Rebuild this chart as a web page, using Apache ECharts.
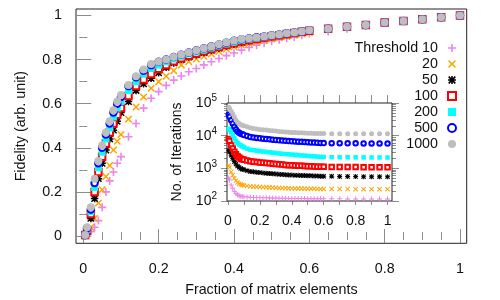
<!DOCTYPE html>
<html>
<head>
<meta charset="utf-8">
<script src="https://cdn.jsdelivr.net/npm/echarts@6/dist/echarts.min.js"></script>
<style>html,body{margin:0;padding:0;background:#fff}#c{width:500px;height:300px}</style>
</head>
<body>
<div id="c"></div>
<script>
// ---------------- data ----------------
const fractions = [0.005,0.01,0.02,0.03,0.04,0.05,0.06,0.07,0.08,0.09,0.10,
  0.12,0.14,0.16,0.18,0.20,0.22,0.24,0.26,0.28,0.30,0.32,0.34,0.36,0.38,0.40,
  0.42,0.44,0.46,0.48,0.50,0.52,0.54,0.56,0.58,0.60,
  0.65,0.70,0.75,0.80,0.85,0.90,0.95,1.0];

const seriesNames = ['Threshold 10','20','50','100','200','500','1000'];

// Fidelity (main plot)
const fid10 = [0.0,0.01,0.02,0.04,0.07,0.13,0.20,0.25,0.29,0.33,0.36,0.45,0.51,0.58,0.625,0.655,0.683,0.707,0.726,0.745,0.76,0.776,0.79,0.805,0.818,0.83,0.843,0.855,0.865,0.875,0.883,0.89,0.897,0.903,0.91,0.918,0.928,0.94,0.955,0.967,0.975,0.983,0.992,1.0];
const fid20 = [0.0,0.01,0.04,0.08,0.15,0.21,0.27,0.32,0.39,0.43,0.46,0.53,0.585,0.63,0.67,0.70,0.725,0.75,0.775,0.79,0.803,0.815,0.826,0.837,0.848,0.858,0.866,0.873,0.88,0.887,0.893,0.899,0.905,0.91,0.916,0.922,0.935,0.946,0.956,0.967,0.975,0.983,0.992,1.0];
const fid50 = [0.005,0.02,0.08,0.17,0.26,0.33,0.39,0.44,0.48,0.52,0.56,0.61,0.66,0.69,0.715,0.74,0.765,0.785,0.80,0.812,0.822,0.832,0.842,0.852,0.862,0.87,0.878,0.885,0.892,0.898,0.904,0.909,0.914,0.919,0.925,0.93,0.94,0.949,0.957,0.968,0.975,0.983,0.992,1.0];
const fid100 = [0.005,0.025,0.1,0.2,0.29,0.36,0.42,0.47,0.51,0.55,0.58,0.635,0.68,0.71,0.735,0.758,0.775,0.792,0.806,0.818,0.828,0.838,0.848,0.857,0.866,0.874,0.882,0.888,0.894,0.9,0.906,0.911,0.916,0.921,0.926,0.931,0.94,0.949,0.957,0.968,0.975,0.983,0.992,1.0];
const fid200 = [0.005,0.03,0.11,0.22,0.31,0.38,0.44,0.49,0.54,0.58,0.61,0.66,0.70,0.735,0.76,0.775,0.79,0.803,0.815,0.826,0.836,0.845,0.854,0.863,0.872,0.88,0.887,0.893,0.898,0.903,0.908,0.913,0.918,0.922,0.927,0.932,0.94,0.949,0.957,0.968,0.975,0.983,0.992,1.0];
const fid500 = [0.005,0.035,0.12,0.24,0.33,0.40,0.46,0.51,0.56,0.60,0.63,0.68,0.72,0.75,0.775,0.79,0.80,0.812,0.822,0.832,0.842,0.851,0.86,0.869,0.877,0.885,0.892,0.897,0.901,0.905,0.91,0.914,0.919,0.923,0.928,0.933,0.94,0.949,0.957,0.968,0.975,0.983,0.992,1.0];
const fid1000 = [0.005,0.04,0.13,0.26,0.34,0.41,0.47,0.52,0.57,0.61,0.64,0.685,0.725,0.755,0.78,0.79,0.80,0.812,0.822,0.832,0.842,0.851,0.86,0.87,0.878,0.886,0.893,0.897,0.90,0.905,0.91,0.914,0.919,0.923,0.928,0.933,0.94,0.949,0.957,0.968,0.975,0.983,0.992,1.0];

// Number of iterations (inset)
const iter10 = [510,440,310,245,200,170,155,146,141,138,136,133,131,129,128,127,126,125,124.5,123.6,122.8,122,121,120.5,120,119.7,119.5,119,118.7,118.4,118,117.8,117.5,117.2,117,116.8,116.5,116.3,116,115.8,115.6,115.4,115.2,115];
const iter20 = [1230,1070,780,620,500,420,370,340,320,310,300,290,280,275,272,269,266,263,260,257,254,251,248,247,245,243,242,241,240,239,238,237,236,235,234,234,233,232,231,230,230,229,229,228];
const iter50 = [3550,3160,2510,2000,1620,1350,1170,1070,990,940,910,850,800,780,760,740,725,710,695,680,670,660,645,635,625,620,615,610,605,600,595,590,585,580,575,573,570,565,560,558,555,552,550,548];
const iter100 = [7900,6900,5100,4070,3240,2690,2340,2140,1970,1900,1840,1740,1660,1580,1550,1510,1480,1450,1420,1390,1360,1330,1300,1270,1250,1240,1220,1200,1190,1170,1160,1150,1140,1120,1110,1110,1100,1100,1090,1090,1080,1080,1080,1070];
const iter200 = [16200,15100,12600,10200,8300,6900,6000,5400,5000,4700,4400,4000,3720,3590,3470,3370,3270,3180,3100,3020,2940,2860,2790,2740,2690,2640,2590,2540,2490,2450,2400,2360,2320,2280,2240,2220,2200,2190,2180,2170,2160,2150,2150,2140];
const iter500 = [43600,38000,29500,23400,18600,15500,13500,12200,11500,11000,10500,9800,9100,8750,8500,8280,8090,7910,7730,7550,7380,7210,7060,6950,6840,6750,6650,6560,6470,6380,6300,6220,6150,6070,5980,5940,5900,5870,5850,5830,5800,5780,5770,5750];
const iter1000 = [74000,67600,56200,45700,37200,30200,25700,23400,21600,20700,20000,18600,17400,16600,16000,15500,15100,14800,14500,14100,13800,13500,13200,13000,12800,12600,12400,12300,12200,12000,11900,11800,11750,11650,11600,11550,11500,11500,11450,11450,11400,11400,11400,11400];

// tick values
const mainXTicks = [0,0.2,0.4,0.6,0.8,1];
const mainXMinor = [0,0.05,0.1,0.15,0.2,0.25,0.3,0.35,0.4,0.45,0.5,0.55,0.6,0.65,0.7,0.75,0.8,0.85,0.9,0.95,1];
const mainYTicks = [0,0.2,0.4,0.6,0.8,1];
const mainYMinor = [0,0.1,0.2,0.3,0.4,0.5,0.6,0.7,0.8,0.9,1];
const insetXTicks = [0,0.2,0.4,0.6,0.8,1];
const insetXMinor = [0,0.1,0.2,0.3,0.4,0.5,0.6,0.7,0.8,0.9,1];
const insetYTicks = [100,1000,10000,100000];
const insetYMinor = [100,200,300,400,500,600,700,800,900,1000,2000,3000,4000,5000,6000,7000,8000,9000,10000,20000,30000,40000,50000,60000,70000,80000,90000,100000];

// ---------------- chart ----------------
const fidSets = [fid10,fid20,fid50,fid100,fid200,fid500,fid1000];
const iterSets = [iter10,iter20,iter50,iter100,iter200,iter500,iter1000];

const PLUS = 'path://M4,0H6V4H10V6H6V10H4V6H0V4H4Z';
const CROSS = 'path://M0,1.4L1.4,0L5,3.6L8.6,0L10,1.4L6.4,5L10,8.6L8.6,10L5,6.4L1.4,10L0,8.6L3.6,5Z';
const STAR = 'path://M4,0H6V4H10V6H6V10H4V6H0V4H4Z M1.5,0.1L9.9,8.5L8.5,9.9L0.1,1.5Z M8.5,0.1L9.9,1.5L1.5,9.9L0.1,8.5Z';

const styles = [
  {symbol: PLUS, size: 8, inset: 5, color: '#ee82ee'},
  {symbol: CROSS, size: 7.5, inset: 5, color: '#ffa500'},
  {symbol: STAR, size: 7.5, inset: 5, color: '#000000'},
  {symbol: 'emptyRect', size: 6.5, inset: 4.5, color: '#ff0000', border: 1.5},
  {symbol: 'rect', size: 7, inset: 4.5, color: '#00ffff'},
  {symbol: 'emptyCircle', size: 6.5, inset: 4.5, color: '#0000ff', border: 1.5},
  {symbol: 'circle', size: 8, inset: 5, color: '#bebebe'}
];

const FONT = '"Liberation Sans", Arial, Helvetica, sans-serif';
const TXT = '#111';
const TICK = '#8c8c8c';

function tickAxis(extra) {
  return Object.assign({
    type: 'value', splitLine: {show: false}, axisLine: {show: false},
    axisLabel: {show: false}
  }, extra);
}

const xAxes = [
  tickAxis({gridIndex: 0, position: 'bottom', min: -0.0194, max: 1.0178,
    axisTick: {customValues: mainXTicks, length: 7, lineStyle: {color: TICK}},
    axisLabel: {show: true, customValues: mainXTicks, margin: 18.5, fontSize: 14.3, color: TXT, fontFamily: FONT},
    name: 'Fraction of matrix elements', nameLocation: 'middle', nameGap: 40,
    nameTextStyle: {fontSize: 14.3, color: TXT, fontFamily: FONT}}),
  tickAxis({gridIndex: 0, position: 'bottom', min: -0.0194, max: 1.0178,
    axisTick: {customValues: mainXMinor, length: 4, lineStyle: {color: TICK}}}),
  tickAxis({gridIndex: 0, position: 'top', min: -0.0194, max: 1.0178,
    axisTick: {customValues: mainXTicks, length: 7, lineStyle: {color: TICK}}}),
  tickAxis({gridIndex: 0, position: 'top', min: -0.0194, max: 1.0178,
    axisTick: {customValues: mainXMinor, length: 4, lineStyle: {color: TICK}}}),
  tickAxis({gridIndex: 1, position: 'bottom', min: -0.006, max: 1.028,
    axisTick: {customValues: insetXMinor, length: 4, lineStyle: {color: TICK}},
    axisLabel: {show: true, customValues: insetXTicks, margin: 13, fontSize: 14, color: TXT, fontFamily: FONT}}),
  tickAxis({gridIndex: 1, position: 'top', min: -0.006, max: 1.028,
    axisTick: {customValues: insetXMinor, length: 8, lineStyle: {color: TICK}}})
];

function supFmt(v) {
  const e = Math.round(Math.log10(v));
  return '{b|10}{s|' + e + '}';
}

const yAxes = [
  tickAxis({gridIndex: 0, position: 'left', min: -0.033, max: 1.0295,
    axisTick: {customValues: mainYTicks, length: 8, lineStyle: {color: TICK}},
    axisLabel: {show: true, customValues: mainYTicks, margin: 14, fontSize: 14.3, color: TXT, fontFamily: FONT},
    name: 'Fidelity (arb. unit)', nameLocation: 'middle', nameGap: 48,
    nameTextStyle: {fontSize: 14.3, color: TXT, fontFamily: FONT}}),
  tickAxis({gridIndex: 0, position: 'left', min: -0.033, max: 1.0295,
    axisTick: {customValues: mainYMinor, length: 4, lineStyle: {color: TICK}}}),
  tickAxis({gridIndex: 0, position: 'right', min: -0.033, max: 1.0295,
    axisTick: {customValues: mainYTicks, length: 8, lineStyle: {color: TICK}}}),
  tickAxis({gridIndex: 0, position: 'right', min: -0.033, max: 1.0295,
    axisTick: {customValues: mainYMinor, length: 4, lineStyle: {color: TICK}}}),
  tickAxis({gridIndex: 1, type: 'log', logBase: 10, position: 'left', min: 100, max: 100000,
    axisTick: {customValues: insetYMinor, length: 4, lineStyle: {color: TICK}},
    axisLabel: {show: true, customValues: insetYTicks, margin: 10, formatter: supFmt,
      rich: {b: {fontSize: 14, color: TXT, fontFamily: FONT},
             s: {fontSize: 10, color: TXT, fontFamily: FONT, padding: [0, 0, 9, 0]}}},
    name: 'No. of Iterations', nameLocation: 'middle', nameGap: 43,
    nameTextStyle: {fontSize: 14, color: TXT, fontFamily: FONT}}),
  tickAxis({gridIndex: 1, type: 'log', logBase: 10, position: 'left', min: 100, max: 100000,
    axisTick: {customValues: insetYTicks, length: 7, lineStyle: {color: TICK}}}),
  tickAxis({gridIndex: 1, type: 'log', logBase: 10, position: 'right', min: 100, max: 100000,
    axisTick: {customValues: insetYMinor, length: 4, lineStyle: {color: TICK}}}),
  tickAxis({gridIndex: 1, type: 'log', logBase: 10, position: 'right', min: 100, max: 100000,
    axisTick: {customValues: insetYTicks, length: 7, lineStyle: {color: TICK}}})
];

const series = [];
seriesNames.forEach((name, k) => {
  const st = styles[k];
  series.push({
    type: 'scatter', name: name, xAxisIndex: 0, yAxisIndex: 0,
    symbol: st.symbol, symbolSize: st.size, symbolKeepAspect: true,
    itemStyle: {color: st.color, borderColor: st.border ? st.color : undefined, borderWidth: st.border || 0, opacity: 1},
    data: fractions.map((x, i) => [x, fidSets[k][i]]),
    z: 2 + k, silent: true
  });
});
seriesNames.forEach((name, k) => {
  const st = styles[k];
  series.push({
    type: 'scatter', name: name, xAxisIndex: 4, yAxisIndex: 4,
    symbol: st.symbol, symbolSize: st.inset, symbolKeepAspect: true,
    itemStyle: {color: st.color, borderColor: st.border ? st.color : undefined, borderWidth: st.border ? 1 : 0, opacity: 1},
    data: fractions.map((x, i) => [x, iterSets[k][i]]),
    z: 12 + k, silent: true
  });
});

const chart = echarts.init(document.getElementById('c'), null, {renderer: 'canvas'});
chart.setOption({
  animation: false,
  backgroundColor: '#fff',
  textStyle: {fontFamily: FONT},
  grid: [
    {left: 76, top: 9, right: 33.3, bottom: 56.7, outerBoundsMode: 'none', containLabel: false,
     show: true, borderColor: '#222', borderWidth: 1, backgroundColor: 'transparent'},
    {left: 227, top: 103, right: 108, bottom: 99, outerBoundsMode: 'none', containLabel: false,
     show: true, borderColor: '#222', borderWidth: 1, backgroundColor: '#fff', z: 10}
  ],
  legend: {
    data: seriesNames, orient: 'vertical', align: 'right', right: 43, top: 40,
    itemWidth: 8, itemHeight: 8, itemGap: 0, padding: 0, selectedMode: false,
    textStyle: {fontSize: 14.3, color: TXT, fontFamily: FONT, lineHeight: 16, padding: [0, 5, 0, 0]}
  },
  xAxis: xAxes,
  yAxis: yAxes,
  series: series
});
</script>
</body>
</html>
